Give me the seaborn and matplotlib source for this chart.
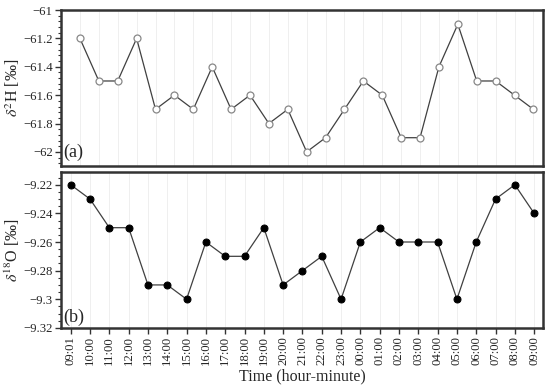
import matplotlib
matplotlib.use("Agg")
import matplotlib.pyplot as plt
import seaborn as sns
import numpy as np
from matplotlib.ticker import AutoMinorLocator, FuncFormatter

times = ["09:01", "10:00", "11:00", "12:00", "13:00", "14:00", "15:00", "16:00",
         "17:00", "18:00", "19:00", "20:00", "21:00", "22:00", "23:00", "00:00",
         "01:00", "02:00", "03:00", "04:00", "05:00", "06:00", "07:00", "08:00", "09:00"]
d2h = [-61.2, -61.5, -61.5, -61.2, -61.7, -61.6, -61.7, -61.4, -61.7, -61.6,
       -61.8, -61.7, -62.0, -61.9, -61.7, -61.5, -61.6, -61.9, -61.9, -61.4,
       -61.1, -61.5, -61.5, -61.6, -61.7]
d18o = [-9.22, -9.23, -9.25, -9.25, -9.29, -9.29, -9.30, -9.26, -9.27, -9.27,
        -9.25, -9.29, -9.28, -9.27, -9.30, -9.26, -9.25, -9.26, -9.26, -9.26,
        -9.30, -9.26, -9.23, -9.22, -9.24]
h_ticks = [-62, -61.8, -61.6, -61.4, -61.2, -61]
o_ticks = [-9.32, -9.3, -9.28, -9.26, -9.24, -9.22]

sns.set_theme(style="white")
plt.rcParams['font.family'] = ['Liberation Serif', 'DejaVu Serif']
plt.rcParams['mathtext.fontset'] = 'stix'

idx = np.arange(len(times))
fig = plt.figure(figsize=(5.5, 3.88), dpi=100)
ax1 = fig.add_axes([0.111, 0.572, 0.876, 0.402])
ax2 = fig.add_axes([0.111, 0.155, 0.876, 0.402])

spine_c = "#333333"

def fmt(v, pos):
    s = ("%g" % v)
    return s.replace("-", "\u2212")

for ax in (ax1, ax2):
    for s in ax.spines.values():
        s.set_color(spine_c)
        s.set_linewidth(1.8)
    for x in idx:
        ax.axvline(x, color="#ededed", lw=0.6, zorder=0)
    ax.tick_params(axis='y', which='major', direction='out', length=4, width=1.0,
                   color=spine_c, labelsize=9.2, left=True, pad=2)
    ax.tick_params(axis='y', which='minor', direction='out', length=2, width=0.8,
                   color=spine_c, left=True)
    ax.yaxis.set_major_formatter(FuncFormatter(fmt))

sns.lineplot(x=idx, y=d2h, ax=ax1, color="#404040", lw=0.9, marker='o',
             markersize=5, markerfacecolor='white', markeredgecolor='#888888',
             markeredgewidth=0.9)
ax1.set_xlim(-1.0, 24.5)
ax1.set_ylim(-62.1, -61)
ax1.set_yticks(h_ticks)
ax1.yaxis.set_minor_locator(AutoMinorLocator(5))
ax1.set_xticks([])
ax1.set_ylabel(r"$\delta^{2}$H [‰]", fontsize=11.5, labelpad=1)
ax1.text(0.005, 0.03, "(a)", transform=ax1.transAxes, fontsize=13, ha='left', va='bottom')

sns.lineplot(x=idx, y=d18o, ax=ax2, color="#404040", lw=0.9, marker='o',
             markersize=5, markerfacecolor='black', markeredgecolor='black')
ax2.set_xlim(-0.5, 24.45)
ax2.set_ylim(-9.32, -9.211)
ax2.set_yticks(o_ticks)
ax2.yaxis.set_minor_locator(AutoMinorLocator(4))
ax2.set_xticks(idx)
ax2.set_xticklabels(times, rotation=90, fontsize=9.2)
ax2.tick_params(axis='x', direction='out', length=4, width=1.0, color=spine_c,
                bottom=True, pad=2)
ax2.set_ylabel(r"$\delta^{18}$O [‰]", fontsize=11.5, labelpad=1)
ax2.set_xlabel("Time (hour-minute)", fontsize=11.5, labelpad=2)
ax2.text(0.005, 0.01, "(b)", transform=ax2.transAxes, fontsize=13, ha='left', va='bottom')

fig.savefig("out.png", dpi=100)
